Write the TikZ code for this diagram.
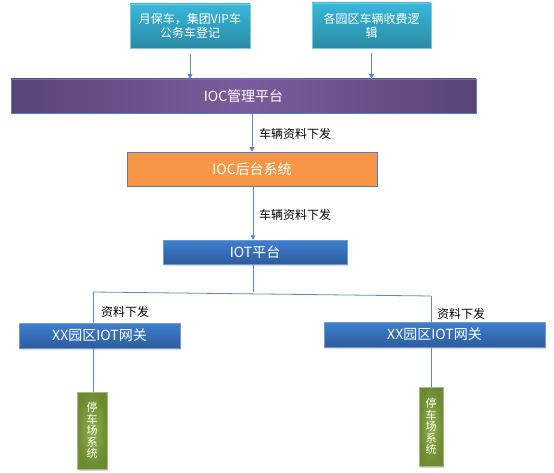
\documentclass[tikz,border=0pt]{standalone}
\usepackage{fontspec}
\newfontfamily\cjk{Noto Sans CJK SC}
\usetikzlibrary{arrows.meta,shadows}
\definecolor{tealT}{HTML}{3AB7D9}
\definecolor{tealB}{HTML}{2A8BA6}
\definecolor{purE}{HTML}{5A4477}
\definecolor{purM}{HTML}{7A5C9D}
\definecolor{orgF}{HTML}{F79646}
\definecolor{bluT}{HTML}{3E80CF}
\definecolor{bluB}{HTML}{2D5C9E}
\definecolor{bdr}{HTML}{4F81BD}
\definecolor{grnE}{HTML}{6C8A30}
\definecolor{grnM}{HTML}{8FB24C}
\definecolor{link}{HTML}{5A8ACB}
\begin{document}
\begin{tikzpicture}[x=1pt,y=-1pt,
  base/.style={rectangle,inner sep=0pt,text=white,align=center,font=\cjk,
    drop shadow={shadow xshift=1pt,shadow yshift=-1.5pt,fill=black!30,opacity=0.45}},
  tealbox/.style={base,top color=tealT,bottom color=tealB,draw=tealT!70!white,line width=0.5pt,
    font=\cjk\fontsize{12}{14}\selectfont},
  purbox/.style={base,left color=purE,right color=purE,middle color=purM,draw=bdr,line width=0.6pt,
    font=\cjk\fontsize{14}{16}\selectfont},
  orgbox/.style={base,fill=orgF,draw=bdr,line width=0.6pt,font=\cjk\fontsize{14}{16}\selectfont},
  blubox/.style={base,top color=bluT,bottom color=bluB,draw=bdr!80!white,line width=0.5pt,
    font=\cjk\fontsize{14}{16}\selectfont},
  grnbox/.style={base,inner color=grnM,outer color=grnE,draw=grnE!60!white,line width=0.5pt,
    font=\cjk\fontsize{11}{11.6}\selectfont},
  lab/.style={anchor=west,inner sep=0pt,font=\cjk\fontsize{12}{14}\selectfont,text=black},
  conn/.style={draw=link,line width=0.8pt},
  arr/.style={conn,-{Triangle[width=5pt,length=4.5pt]}}]
\useasboundingbox (0,0) rectangle (554,473);

\node[tealbox,minimum width=120pt,minimum height=44pt] (a) at (190,26) {月保车，集团VIP车\\公务车登记};
\node[tealbox,minimum width=119pt,minimum height=45pt] (b) at (371.5,25.5) {各园区车辆收费逻\\辑};
\node[purbox,minimum width=465pt,minimum height=34pt] (mgmt) at (243.5,96) {IOC管理平台};
\node[orgbox,minimum width=250pt,minimum height=34pt] (back) at (252,169) {IOC后台系统};
\node[blubox,minimum width=184pt,minimum height=24pt] (iot) at (255,252) {IOT平台};
\node[blubox,minimum width=161pt,minimum height=25pt] (lgw) at (99.5,335.5) {XX园区IOT网关};
\node[blubox,minimum width=221pt,minimum height=25pt] (rgw) at (434.5,334.5) {XX园区IOT网关};
\node[grnbox,minimum width=30pt,minimum height=77pt] (lp) at (92,430.5) {停\\车\\场\\系\\统};
\node[grnbox,minimum width=24pt,minimum height=79pt] (rp) at (431,426.5) {停\\车\\场\\系\\统};

\node[lab] (l1) at (259,134) {车辆资料下发};
\node[lab] (l2) at (259,215) {车辆资料下发};
\node[lab] (l3) at (101,312) {资料下发};
\node[lab] (l4) at (437,314) {资料下发};

\coordinate (jm) at (253,292);
\coordinate (jl) at (93,292);
\coordinate (jr) at (431,296);

\draw[arr,shorten <=6pt] (a.south) -- (a.south |- mgmt.north);
\draw[arr,shorten <=5pt] (b.south) -- (b.south |- mgmt.north);
\draw[arr] (back.north |- mgmt.south) -- (back.north);
\draw[arr] (jm |- back.south) -- (jm |- iot.north);
\draw[conn] (jm |- iot.south) -- (jm);
\draw[conn] (jl) -- (jr);
\draw[conn] (jl) -- (jl |- lgw.north);
\draw[conn] (jr) -- (jr |- rgw.north);
\draw[conn] (jl |- lgw.south) -- (jl |- lp.north);
\draw[conn] (rp.north |- rgw.south) -- (rp.north);
\end{tikzpicture}
\end{document}
